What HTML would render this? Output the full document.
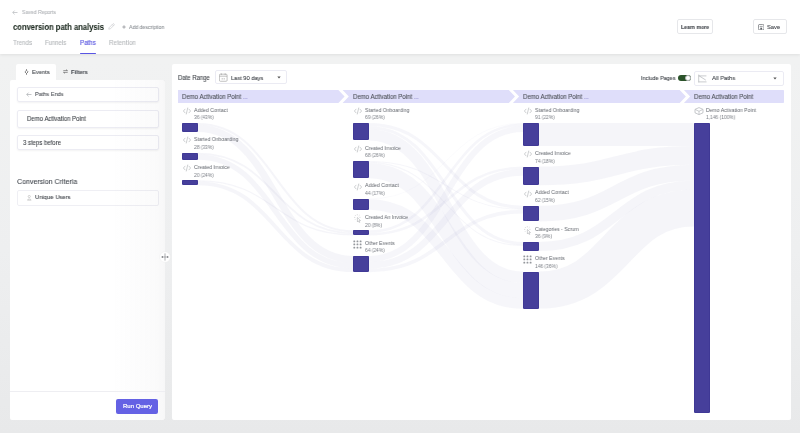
<!DOCTYPE html>
<html><head><meta charset="utf-8">
<style>
*{box-sizing:border-box;margin:0;padding:0}
html,body{width:800px;height:433px;overflow:hidden}
.a{will-change:transform}
body{background:linear-gradient(to bottom,#f1f2f2 0px,#f1f2f2 60px,#eeeff0 250px,#e8e9ea 433px);font-family:"Liberation Sans",sans-serif;position:relative;color:#333}
.a{position:absolute;white-space:nowrap}
#hdr{left:0;top:0;width:800px;height:54px;background:#fff;box-shadow:0 1px 3px rgba(0,0,0,.08)}
.t{line-height:1;-webkit-text-stroke:0.08px currentColor}
#lp{left:10px;top:80px;width:155px;height:340px;background:#fff;border-radius:2px}
#mp{left:171.5px;top:64px;width:618.5px;height:356px;background:#fff;border-radius:2px}
.box{background:#fff;border:0.6px solid #ececf3;border-radius:2px;box-shadow:0 1px 2px rgba(0,0,0,.05)}
.hb{height:13px;top:90px;background:#e1e0f9}
.bar{background:#463f9b;border-radius:1.4px;position:absolute;box-shadow:inset 0 0 0 0.6px #3b3492}
.lbl{font-size:5.45px;color:#62666d;line-height:1;transform:scaleX(0.936);transform-origin:0 0}
.num{font-size:5.2px;color:#7a7e85;line-height:1;transform:scaleX(0.942);transform-origin:0 0}
</style></head><body>
<div id="hdr" class="a"></div>
<!-- back link -->
<svg class="a" style="left:12px;top:10px" width="6" height="5" viewBox="0 0 6 5"><path d="M5.5 2.5H0.8M2.6 0.6L0.7 2.5L2.6 4.4" fill="none" stroke="#b5b8bc" stroke-width="0.7"/></svg>
<div class="a t" style="left:22px;top:9.67px;font-size:5.46px;transform:scaleX(0.943);transform-origin:0 0;color:#b0b3b7">Saved Reports</div>
<div class="a t" style="left:13px;top:22.8px;font-size:8.3px;font-weight:bold;color:#1d2a20;transform:scaleX(0.918);transform-origin:0 0">conversion path analysis</div>
<svg class="a" style="left:107.8px;top:23.4px" width="7" height="7" viewBox="0 0 7 7"><path d="M0.8 6.2L1.1 4.7L4.9 0.9C5.2 0.6 5.6 0.6 5.9 0.9L6.1 1.1C6.4 1.4 6.4 1.8 6.1 2.1L2.3 5.9Z M4.2 1.6L5.4 2.8" fill="none" stroke="#c2c4c8" stroke-width="0.6" stroke-linejoin="round"/></svg>
<svg class="a" style="left:122px;top:25.3px" width="4" height="4" viewBox="0 0 4 4"><path d="M2 0.3V3.7M0.3 2H3.7" stroke="#8d9196" stroke-width="0.75"/></svg>
<div class="a t" style="left:128.5px;top:24.97px;font-size:5.46px;transform:scaleX(0.943);transform-origin:0 0;color:#8e9297">Add description</div>
<div class="a t" style="left:13px;top:39.82px;font-size:6.57px;transform:scaleX(0.943);transform-origin:0 0;color:#b4b7ba">Trends</div>
<div class="a t" style="left:45px;top:39.82px;font-size:6.57px;transform:scaleX(0.943);transform-origin:0 0;letter-spacing:-0.15px;color:#b4b7ba">Funnels</div>
<div class="a t" style="left:80px;top:39.82px;font-size:6.57px;transform:scaleX(0.943);transform-origin:0 0;color:#5b58e0;-webkit-text-stroke:0.15px #5b58e0">Paths</div>
<div class="a t" style="left:109px;top:39.82px;font-size:6.57px;transform:scaleX(0.943);transform-origin:0 0;letter-spacing:0.05px;color:#b4b7ba">Retention</div>
<div class="a" style="left:80px;top:53px;width:16px;height:1.3px;background:#5956e3;border-radius:1px"></div>
<!-- header buttons -->
<div class="a box" style="left:677px;top:19.3px;width:36px;height:14.6px;box-shadow:none;border-color:#e6e7ea"></div>
<div class="a t" style="left:681px;top:24.66px;font-size:5.5px;transform:scaleX(0.935);transform-origin:0 0;font-weight:bold;color:#3b3f45">Learn more</div>
<div class="a box" style="left:753px;top:19.3px;width:34px;height:15px;box-shadow:none;border-color:#e6e7ea"></div>
<svg class="a" style="left:757.9px;top:23.6px" width="6.4" height="6.4" viewBox="0 0 6.4 6.4"><rect x="0.4" y="0.4" width="5.6" height="5.6" rx="1.4" fill="none" stroke="#5a5e64" stroke-width="0.7"/><path d="M1.7 2.4H4.7" stroke="#5a5e64" stroke-width="0.6"/><rect x="2.3" y="3.7" width="1.8" height="1.9" fill="#5a5e64"/></svg>
<div class="a t" style="left:767.2px;top:24.7px;font-size:5.8px;color:#3b3f45">Save</div>

<!-- left panel -->
<div class="a" style="left:16px;top:64px;width:40px;height:18px;background:#fff;border-radius:2px 2px 0 0"></div>
<div id="lp" class="a"></div>
<svg class="a" style="left:23.6px;top:68.8px" width="5" height="6" viewBox="0 0 5 6"><path d="M2.5 0.2V1.4M2.5 4.4V5.8" stroke="#555" stroke-width="0.7"/><path d="M2.5 1.3L4.1 2.9L2.5 4.5L0.9 2.9Z" fill="none" stroke="#555" stroke-width="0.7" stroke-linejoin="round"/></svg>
<div class="a t" style="left:31.8px;top:69.2px;font-size:6.15px;transform:scaleX(0.943);transform-origin:0 0;color:#3a3e44">Events</div>
<svg class="a" style="left:63px;top:69px" width="5" height="5" viewBox="0 0 5 5"><path d="M0.3 1.6H4.7M0.3 3.4H4.7M3 0.6L4.3 1.6M2 4.4L0.7 3.4" fill="none" stroke="#555" stroke-width="0.6"/></svg>
<div class="a t" style="left:71px;top:69.64px;font-size:5.94px;transform:scaleX(0.943);transform-origin:0 0;font-weight:bold;color:#4a4e54">Filters</div>

<div class="a box" style="left:16.5px;top:87px;width:142px;height:15px"></div>
<svg class="a" style="left:25.5px;top:91.8px" width="6" height="5" viewBox="0 0 6 5"><path d="M5.5 2.5H0.8M2.6 0.6L0.7 2.5L2.6 4.4" fill="none" stroke="#9a9ea3" stroke-width="0.6"/></svg>
<div class="a t" style="left:35px;top:92.2px;font-size:5.9px;transform:scaleX(0.943);transform-origin:0 0;color:#4a4e54">Paths Ends</div>
<div class="a box" style="left:16.5px;top:109.6px;width:142px;height:18px"></div>
<div class="a t" style="left:26.6px;top:115.9px;font-size:6.36px;transform:scaleX(0.943);transform-origin:0 0;color:#3a3e44">Demo Activation Point</div>
<div class="a box" style="left:16.5px;top:135px;width:142px;height:15.4px"></div>
<div class="a t" style="left:23px;top:139.5px;font-size:6.36px;transform:scaleX(0.943);transform-origin:0 0;color:#3a3e44">3 steps before</div>
<div class="a t" style="left:16.6px;top:177.77px;font-size:7.47px;transform:scaleX(0.943);transform-origin:0 0;color:#3f444b">Conversion Criteria</div>
<div class="a box" style="left:16.5px;top:189.7px;width:142px;height:15.6px;box-shadow:none;border-color:#efeff4"></div>
<svg class="a" style="left:26.5px;top:195px" width="4.5" height="5.5" viewBox="0 0 4.5 5.5"><circle cx="2.25" cy="1.5" r="1.1" fill="none" stroke="#aaa" stroke-width="0.5"/><path d="M0.4 5.2C0.4 3.6 4.1 3.6 4.1 5.2Z" fill="none" stroke="#aaa" stroke-width="0.5"/></svg>
<div class="a t" style="left:34.6px;top:194.4px;font-size:6.21px;transform:scaleX(0.943);transform-origin:0 0;color:#3a3e44">Unique Users</div>
<div class="a" style="left:113px;top:80px;width:52px;height:340px;background:linear-gradient(to right,rgba(120,120,130,0) 0%,rgba(120,120,130,0.035) 85%,rgba(120,120,130,0.06) 100%)"></div>
<div class="a" style="left:10px;top:391px;width:155px;height:0.6px;background:#eeeef2"></div>
<div class="a" style="left:116px;top:398.8px;width:42px;height:14.6px;background:#6461e4;border-radius:2px"></div>
<div class="a t" style="left:122.9px;top:403.1px;font-size:6px;color:#fff;-webkit-text-stroke:0.2px #fff">Run Query</div>
<!-- splitter handle -->
<svg class="a" style="left:158.7px;top:250.9px" width="12" height="12" viewBox="0 0 12 12"><circle cx="6" cy="6" r="5.3" fill="#fff" stroke="#ececec" stroke-width="0.4"/><path d="M6 2.4V9.6" stroke="#a4a6a9" stroke-width="0.9"/><path d="M2.6 6H9.4" stroke="#8c8e92" stroke-width="0.7"/><path d="M2.3 6L3.9 4.9V7.1Z M9.7 6L8.1 4.9V7.1Z" fill="#6d7074"/></svg>

<!-- main panel -->
<div id="mp" class="a"></div>
<div class="a t" style="left:177.7px;top:74.5px;font-size:6.35px;transform:scaleX(0.942);transform-origin:0 0;color:#3a3e44">Date Range</div>
<div class="a box" style="left:214.5px;top:70.3px;width:72.3px;height:14px;box-shadow:none;border-color:#ebebf3"></div>
<svg class="a" style="left:219px;top:73.3px" width="8.5" height="8.7" viewBox="0 0 8.5 8.7"><rect x="0.4" y="1.2" width="7.7" height="7.1" rx="1" fill="none" stroke="#999" stroke-width="0.6"/><path d="M0.4 3.2H8.1M2.3 0.3V2M6.2 0.3V2M3.2 5V6.6M5.2 5V6.6" stroke="#999" stroke-width="0.6"/></svg>
<div class="a t" style="left:231.4px;top:74.84px;font-size:6.05px;transform:scaleX(0.943);transform-origin:0 0;color:#3a3e44">Last 90 days</div>
<svg class="a" style="left:276.9px;top:76.3px" width="4" height="3" viewBox="0 0 4 3"><path d="M0.3 0.5H3.7L2 2.5Z" fill="#555"/></svg>

<div class="a t" style="left:641px;top:75.55px;font-size:5.79px;transform:scaleX(0.943);transform-origin:0 0;color:#3a3e44">Include Pages</div>
<div class="a" style="left:677.7px;top:74.8px;width:13px;height:6.2px;background:#2a5229;border-radius:3.1px"></div>
<div class="a" style="left:684.5px;top:74.8px;width:6.2px;height:6.2px;background:#fff;border:0.5px solid #b5b7b9;border-radius:50%"></div>
<div class="a box" style="left:694.4px;top:70.5px;width:89.6px;height:14.5px;box-shadow:none;border-color:#ebebf3"></div>
<svg class="a" style="left:698px;top:73.5px" width="9" height="9" viewBox="0 0 9 9"><path d="M0.7 0.6V8.5M0.7 1.9H8.4M0.7 7.9H8.5M1.2 1.9L7.8 6.1" fill="none" stroke="#a5a8ac" stroke-width="0.6"/></svg>
<div class="a t" style="left:711.9px;top:74.7px;font-size:6.25px;transform:scaleX(0.943);transform-origin:0 0;color:#3a3e44">All Paths</div>
<svg class="a" style="left:773.3px;top:76.6px" width="4" height="3" viewBox="0 0 4 3"><path d="M0.3 0.5H3.7L2 2.5Z" fill="#555"/></svg>

<!-- column header bars -->
<svg class="a" style="left:0;top:0" width="800" height="433">
<path d="M178 90H338.4L344.6 96.4L338.4 103H178Z" fill="#dfdefa"/>
<path d="M342.6 90H508.8L515 96.4L508.8 103H342.6L348.8 96.4Z" fill="#dfdefa"/>
<path d="M512.9 90H679.7L685.9 96.4L679.7 103H512.9L519.1 96.4Z" fill="#dfdefa"/>
<path d="M683.9 90H783C783.6 90 784 90.4 784 91V102C784 102.6 783.6 103 783 103H683.9L690.1 96.4Z" fill="#dfdefa"/>
</svg>
<div class="a t" style="left:182.2px;top:93.75px;font-size:6.41px;transform:scaleX(0.943);transform-origin:0 0;color:#4a4e55">Demo Activation Point <span style="color:#8a87c8">...</span></div>
<div class="a t" style="left:353px;top:93.75px;font-size:6.41px;transform:scaleX(0.943);transform-origin:0 0;color:#4a4e55">Demo Activation Point <span style="color:#8a87c8">...</span></div>
<div class="a t" style="left:523.4px;top:93.75px;font-size:6.41px;transform:scaleX(0.943);transform-origin:0 0;color:#4a4e55">Demo Activation Point <span style="color:#8a87c8">...</span></div>
<div class="a t" style="left:694.1px;top:93.75px;font-size:6.41px;transform:scaleX(0.943);transform-origin:0 0;color:#4a4e55">Demo Activation Point</div>

<!-- flows -->
<svg class="a" fill="none" stroke="#aeaed2" stroke-opacity="0.125" style="left:0;top:0" width="800" height="433">
<path d="M198 124.01C275.5 124.01 275.5 231.36 353 231.36" stroke-width="2.03"/>
<path d="M198 128.57C275.5 128.57 275.5 259.46 353 259.46" stroke-width="7.09"/>
<path d="M198 153.51C275.5 153.51 275.5 233.26 353 233.26" stroke-width="1.77"/>
<path d="M198 157.05C275.5 157.05 275.5 265.66 353 265.66" stroke-width="5.32"/>
<path d="M198 180.84C275.5 180.84 275.5 234.78 353 234.78" stroke-width="1.27"/>
<path d="M198 183.38C275.5 183.38 275.5 270.22 353 270.22" stroke-width="3.80"/>
<path d="M369 124.52C446.0 124.52 446.0 207.31 523 207.31" stroke-width="3.04" stroke-opacity="0.11"/>
<path d="M369 127.56C446.0 127.56 446.0 243.52 523 243.52" stroke-width="3.04" stroke-opacity="0.11"/>
<path d="M369 134.78C446.0 134.78 446.0 277.32 523 277.32" stroke-width="11.40" stroke-opacity="0.11"/>
<path d="M369 161.49C446.0 161.49 446.0 209.34 523 209.34" stroke-width="1.01" stroke-opacity="0.11"/>
<path d="M369 162.50C446.0 162.50 446.0 245.55 523 245.55" stroke-width="1.01" stroke-opacity="0.11"/>
<path d="M369 170.61C446.0 170.61 446.0 290.62 523 290.62" stroke-width="15.20" stroke-opacity="0.11"/>
<path d="M369 198.95C446.0 198.95 446.0 123.25 523 123.25" stroke-width="0.51" stroke-opacity="0.11"/>
<path d="M369 204.53C446.0 204.53 446.0 303.54 523 303.54" stroke-width="10.64" stroke-opacity="0.11"/>
<path d="M369 231.62C446.0 231.62 446.0 124.77 523 124.77" stroke-width="2.53" stroke-opacity="0.11"/>
<path d="M369 234.15C446.0 234.15 446.0 167.82 523 167.82" stroke-width="2.53" stroke-opacity="0.11"/>
<path d="M369 258.95C446.0 258.95 446.0 129.08 523 129.08" stroke-width="6.08" stroke-opacity="0.11"/>
<path d="M369 265.28C446.0 265.28 446.0 172.38 523 172.38" stroke-width="6.59" stroke-opacity="0.11"/>
<path d="M369 270.35C446.0 270.35 446.0 211.62 523 211.62" stroke-width="3.55" stroke-opacity="0.11"/>
<path d="M539 134.53C616.5 134.53 616.5 134.53 694 134.53" stroke-width="23.05"/>
<path d="M539 175.92C616.5 175.92 616.5 155.42 694 155.42" stroke-width="18.74"/>
<path d="M539 213.64C616.5 213.64 616.5 172.65 694 172.65" stroke-width="15.70"/>
<path d="M539 246.56C616.5 246.56 616.5 185.06 694 185.06" stroke-width="9.12"/>
<path d="M539 290.11C616.5 290.11 616.5 208.11 694 208.11" stroke-width="36.98"/>
</svg>

<!-- nodes -->
<svg class="a" style="left:182.8px;top:106.8px" width="8" height="8" viewBox="0 0 8 8"><path d="M2.3 1.9L0.4 4L2.3 6.1M5.7 1.9L7.6 4L5.7 6.1M4.8 0.6L3.2 7.4" fill="none" stroke="#a4a7ab" stroke-width="0.55"/></svg>
<div class="a lbl" style="left:193.5px;top:107.70px">Added Contact</div>
<div class="a num" style="left:193.5px;top:115.40px">36 (43%)</div>
<div class="bar" style="left:182px;top:123.0px;width:16px;height:9.12px"></div>
<svg class="a" style="left:182.8px;top:136.42px" width="8" height="8" viewBox="0 0 8 8"><path d="M2.3 1.9L0.4 4L2.3 6.1M5.7 1.9L7.6 4L5.7 6.1M4.8 0.6L3.2 7.4" fill="none" stroke="#a4a7ab" stroke-width="0.55"/></svg>
<div class="a lbl" style="left:193.5px;top:137.32px">Started Onboarding</div>
<div class="a num" style="left:193.5px;top:145.02px">28 (33%)</div>
<div class="bar" style="left:182px;top:152.62px;width:16px;height:7.09px"></div>
<svg class="a" style="left:182.8px;top:164.01px" width="8" height="8" viewBox="0 0 8 8"><path d="M2.3 1.9L0.4 4L2.3 6.1M5.7 1.9L7.6 4L5.7 6.1M4.8 0.6L3.2 7.4" fill="none" stroke="#a4a7ab" stroke-width="0.55"/></svg>
<div class="a lbl" style="left:193.5px;top:164.91px">Created Invoice</div>
<div class="a num" style="left:193.5px;top:172.61px">20 (24%)</div>
<div class="bar" style="left:182px;top:180.21px;width:16px;height:5.07px"></div>
<svg class="a" style="left:353.8px;top:106.8px" width="8" height="8" viewBox="0 0 8 8"><path d="M2.3 1.9L0.4 4L2.3 6.1M5.7 1.9L7.6 4L5.7 6.1M4.8 0.6L3.2 7.4" fill="none" stroke="#a4a7ab" stroke-width="0.55"/></svg>
<div class="a lbl" style="left:364.5px;top:107.70px">Started Onboarding</div>
<div class="a num" style="left:364.5px;top:115.40px">69 (26%)</div>
<div class="bar" style="left:353px;top:123.0px;width:16px;height:17.48px"></div>
<svg class="a" style="left:353.8px;top:144.78px" width="8" height="8" viewBox="0 0 8 8"><path d="M2.3 1.9L0.4 4L2.3 6.1M5.7 1.9L7.6 4L5.7 6.1M4.8 0.6L3.2 7.4" fill="none" stroke="#a4a7ab" stroke-width="0.55"/></svg>
<div class="a lbl" style="left:364.5px;top:145.68px">Created Invoice</div>
<div class="a num" style="left:364.5px;top:153.38px">68 (26%)</div>
<div class="bar" style="left:353px;top:160.98px;width:16px;height:17.22px"></div>
<svg class="a" style="left:353.8px;top:182.5px" width="8" height="8" viewBox="0 0 8 8"><path d="M2.3 1.9L0.4 4L2.3 6.1M5.7 1.9L7.6 4L5.7 6.1M4.8 0.6L3.2 7.4" fill="none" stroke="#a4a7ab" stroke-width="0.55"/></svg>
<div class="a lbl" style="left:364.5px;top:183.40px">Added Contact</div>
<div class="a num" style="left:364.5px;top:191.10px">44 (17%)</div>
<div class="bar" style="left:353px;top:198.7px;width:16px;height:11.15px"></div>
<svg class="a" style="left:354.0px;top:214.15px" width="8" height="9" viewBox="0 0 8 9"><path d="M3.30 1.30L3.30 0.30M4.78 1.92L5.49 1.21M1.82 1.92L1.11 1.21M1.20 3.40L0.20 3.40M5.40 3.40L6.40 3.40M1.82 4.88L1.11 5.59" stroke="#a4a7ab" stroke-width="0.5"/><path d="M3.4 3.5V7.9L4.4 6.9L5.2 8.5L5.9 8.2L5.1 6.6L6.5 6.5Z" fill="none" stroke="#a4a7ab" stroke-width="0.5" stroke-linejoin="round"/></svg>
<div class="a lbl" style="left:364.5px;top:215.05px">Created An Invoice</div>
<div class="a num" style="left:364.5px;top:222.75px">20 (8%)</div>
<div class="bar" style="left:353px;top:230.35px;width:16px;height:5.06px"></div>
<svg class="a" style="left:353.4px;top:239.71px" width="10" height="10" viewBox="0 0 10 10"><g fill="#94979c"><rect x="0.40" y="0.40" width="1.8" height="1.8" rx="0.5"/><rect x="0.40" y="3.55" width="1.8" height="1.8" rx="0.5"/><rect x="0.40" y="6.70" width="1.8" height="1.8" rx="0.5"/><rect x="3.55" y="0.40" width="1.8" height="1.8" rx="0.5"/><rect x="3.55" y="3.55" width="1.8" height="1.8" rx="0.5"/><rect x="3.55" y="6.70" width="1.8" height="1.8" rx="0.5"/><rect x="6.70" y="0.40" width="1.8" height="1.8" rx="0.5"/><rect x="6.70" y="3.55" width="1.8" height="1.8" rx="0.5"/><rect x="6.70" y="6.70" width="1.8" height="1.8" rx="0.5"/></g></svg>
<div class="a lbl" style="left:364.5px;top:240.61px">Other Events</div>
<div class="a num" style="left:364.5px;top:248.31px">64 (24%)</div>
<div class="bar" style="left:353px;top:255.91px;width:16px;height:16.21px"></div>
<svg class="a" style="left:523.8px;top:106.8px" width="8" height="8" viewBox="0 0 8 8"><path d="M2.3 1.9L0.4 4L2.3 6.1M5.7 1.9L7.6 4L5.7 6.1M4.8 0.6L3.2 7.4" fill="none" stroke="#a4a7ab" stroke-width="0.55"/></svg>
<div class="a lbl" style="left:534.5px;top:107.70px">Started Onboarding</div>
<div class="a num" style="left:534.5px;top:115.40px">91 (22%)</div>
<div class="bar" style="left:523px;top:123.0px;width:16px;height:23.05px"></div>
<svg class="a" style="left:523.8px;top:150.35px" width="8" height="8" viewBox="0 0 8 8"><path d="M2.3 1.9L0.4 4L2.3 6.1M5.7 1.9L7.6 4L5.7 6.1M4.8 0.6L3.2 7.4" fill="none" stroke="#a4a7ab" stroke-width="0.55"/></svg>
<div class="a lbl" style="left:534.5px;top:151.25px">Created Invoice</div>
<div class="a num" style="left:534.5px;top:158.95px">74 (18%)</div>
<div class="bar" style="left:523px;top:166.55px;width:16px;height:18.74px"></div>
<svg class="a" style="left:523.8px;top:189.59px" width="8" height="8" viewBox="0 0 8 8"><path d="M2.3 1.9L0.4 4L2.3 6.1M5.7 1.9L7.6 4L5.7 6.1M4.8 0.6L3.2 7.4" fill="none" stroke="#a4a7ab" stroke-width="0.55"/></svg>
<div class="a lbl" style="left:534.5px;top:190.49px">Added Contact</div>
<div class="a num" style="left:534.5px;top:198.19px">62 (15%)</div>
<div class="bar" style="left:523px;top:205.79px;width:16px;height:15.71px"></div>
<svg class="a" style="left:524.0px;top:225.8px" width="8" height="9" viewBox="0 0 8 9"><path d="M3.30 1.30L3.30 0.30M4.78 1.92L5.49 1.21M1.82 1.92L1.11 1.21M1.20 3.40L0.20 3.40M5.40 3.40L6.40 3.40M1.82 4.88L1.11 5.59" stroke="#a4a7ab" stroke-width="0.5"/><path d="M3.4 3.5V7.9L4.4 6.9L5.2 8.5L5.9 8.2L5.1 6.6L6.5 6.5Z" fill="none" stroke="#a4a7ab" stroke-width="0.5" stroke-linejoin="round"/></svg>
<div class="a lbl" style="left:534.5px;top:226.70px">Categories - Scrum</div>
<div class="a num" style="left:534.5px;top:234.40px">36 (9%)</div>
<div class="bar" style="left:523px;top:242.0px;width:16px;height:9.12px"></div>
<svg class="a" style="left:523.4px;top:255.42px" width="10" height="10" viewBox="0 0 10 10"><g fill="#94979c"><rect x="0.40" y="0.40" width="1.8" height="1.8" rx="0.5"/><rect x="0.40" y="3.55" width="1.8" height="1.8" rx="0.5"/><rect x="0.40" y="6.70" width="1.8" height="1.8" rx="0.5"/><rect x="3.55" y="0.40" width="1.8" height="1.8" rx="0.5"/><rect x="3.55" y="3.55" width="1.8" height="1.8" rx="0.5"/><rect x="3.55" y="6.70" width="1.8" height="1.8" rx="0.5"/><rect x="6.70" y="0.40" width="1.8" height="1.8" rx="0.5"/><rect x="6.70" y="3.55" width="1.8" height="1.8" rx="0.5"/><rect x="6.70" y="6.70" width="1.8" height="1.8" rx="0.5"/></g></svg>
<div class="a lbl" style="left:534.5px;top:256.32px">Other Events</div>
<div class="a num" style="left:534.5px;top:264.02px">146 (36%)</div>
<div class="bar" style="left:523px;top:271.62px;width:16px;height:36.98px"></div>
<svg class="a" style="left:693.6px;top:105.65px" width="10" height="10" viewBox="0 0 10 10"><path d="M5 1.6L9 3.4V6.8L5 8.6L1 6.8V3.4Z" fill="none" stroke="#a0a3a8" stroke-width="0.6" stroke-linejoin="round"/><path d="M1.6 3.7L5 5.3L8.4 3.7M5 5.3V8.3" fill="none" stroke="#a0a3a8" stroke-width="0.55"/></svg>
<div class="a lbl" style="left:705.5px;top:107.70px">Demo Activation Point</div>
<div class="a num" style="left:705.5px;top:115.40px">1,146 (100%)</div>
<div class="bar" style="left:694px;top:123.0px;width:16px;height:290.28px"></div>
</body></html>
